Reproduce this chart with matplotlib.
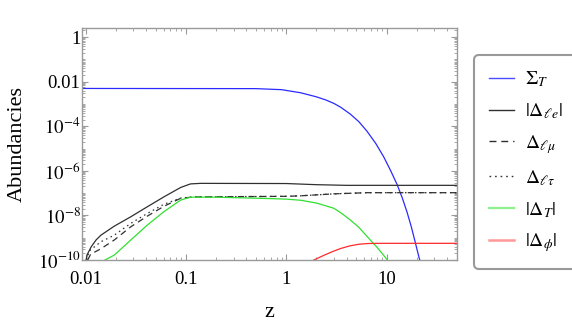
import matplotlib
matplotlib.use("Agg")
import matplotlib.pyplot as plt
import matplotlib.ticker as mticker
from matplotlib.lines import Line2D
import numpy as np

plt.rcParams["font.family"] = ["Liberation Serif", "DejaVu Serif"]
plt.rcParams["mathtext.fontset"] = "stix"

# values (z, abundance)
z_sigma = [0.0092, 0.5, 0.9, 1.39, 2.0, 2.5, 3.0, 3.5, 4.36, 5.3, 6.38, 7.8,
           9.35, 11.0, 12.7, 14.3, 16.0, 17.6, 19.3, 20.5, 21.4]
sigma_T = [5.0e-3, 4.9e-3, 4.4e-3, 3.2e-3, 2.1e-3, 1.5e-3, 1.05e-3, 7.1e-4,
           3.5e-4, 1.6e-4, 6.0e-5, 1.7e-5, 4.3e-6, 1.0e-6, 2.5e-7, 6.3e-8,
           1.4e-8, 3.2e-9, 6.3e-10, 2.1e-10, 1.0e-10]

z_le = [0.0101, 0.0104, 0.0114, 0.0127, 0.0142, 0.0193, 0.0282, 0.0412,
        0.0606, 0.0886, 0.111, 0.14, 1.0, 2.0, 4.0, 50.0]
delta_le = [1.0e-10, 1.8e-10, 4.0e-10, 7.9e-10, 1.3e-9, 3.3e-9, 8.7e-9,
            2.45e-8, 6.9e-8, 1.8e-7, 2.6e-7, 2.75e-7, 2.7e-7, 2.4e-7,
            2.24e-7, 2.24e-7]

z_lmu = [0.0105, 0.0112, 0.0142, 0.0193, 0.0282, 0.0412, 0.0606, 0.0886,
         0.12, 1.0, 1.39, 2.98, 6.38, 50.0]
delta_lmu = [1.0e-10, 1.8e-10, 3.2e-10, 7.9e-10, 3.1e-9, 9.3e-9, 2.6e-8,
             5.9e-8, 6.8e-8, 7.2e-8, 7.6e-8, 9.3e-8, 1.05e-7, 1.05e-7]

z_ltau = [0.0103, 0.0108, 0.0142, 0.0193, 0.0282, 0.0412, 0.0606, 0.0886,
          0.12, 1.0, 1.39, 2.98, 6.38, 50.0]
delta_ltau = [1.0e-10, 2.5e-10, 6.6e-10, 1.3e-9, 4.4e-9, 1.23e-8, 3.2e-8,
              6.0e-8, 6.8e-8, 7.2e-8, 7.6e-8, 9.3e-8, 1.05e-7, 1.05e-7]

z_T = [0.0156, 0.0193, 0.0282, 0.0412, 0.0606, 0.0886, 0.111, 0.2, 0.6,
       1.0, 1.39, 2.0, 2.98, 3.6, 4.36, 5.3, 6.38, 7.2, 7.92, 9.0, 10.2]
delta_T = [1.0e-10, 1.66e-10, 7.9e-10, 3.7e-9, 1.5e-8, 4.9e-8, 6.6e-8,
           6.6e-8, 5.8e-8, 5.4e-8, 4.8e-8, 3.6e-8, 2.1e-8, 1.2e-8, 6.2e-9,
           2.9e-9, 1.15e-9, 6.3e-10, 4.0e-10, 2.0e-10, 1.0e-10]

z_phi = [1.88, 2.4, 2.9, 3.5, 4.3, 5.3, 6.5, 8.5, 50.0]
delta_phi = [1.0e-10, 1.66e-10, 2.4e-10, 3.3e-10, 4.3e-10, 5.1e-10,
             5.5e-10, 5.6e-10, 5.6e-10]

x_ticks = [0.01, 0.1, 1, 10]
x_labels = ["0.01", "0.1", "1", "10"]
y_ticks = [1, 1e-2, 1e-4, 1e-6, 1e-8, 1e-10]
y_labels = ["1", "0.01", "$10^{-4}$", "$10^{-6}$", "$10^{-8}$", "$10^{-10}$"]

fig = plt.figure(figsize=(5.72, 3.24), dpi=100)
ax = fig.add_axes([82 / 572, 1 - 260 / 324, (456.7 - 82) / 572, (260 - 28.3) / 324])

lw = 0.9
ax.plot(z_sigma, sigma_T, color="#2a2aff", lw=lw)
ax.plot(z_le, delta_le, color="#303030", lw=lw)
ax.plot(z_lmu, delta_lmu, color="#303030", lw=lw, dashes=(5, 3.5))
ax.plot(z_ltau, delta_ltau, color="#303030", lw=lw, dashes=(1.2, 2.8))
ax.plot(z_T, delta_T, color="#30e030", lw=lw)
ax.plot(z_phi, delta_phi, color="#ff2a2a", lw=lw)

ax.set_xscale("log")
ax.set_yscale("log")
ax.set_xlim(0.0092, 50)
ax.set_ylim(1e-10, 2.5)

ax.set_xticks(x_ticks)
ax.set_xticklabels(x_labels)
ax.xaxis.set_minor_locator(mticker.LogLocator(base=10, subs=np.arange(2, 10), numticks=50))
ax.xaxis.set_minor_formatter(mticker.NullFormatter())
ax.set_yticks(y_ticks)
ax.set_yticklabels(y_labels)
ax.yaxis.set_minor_locator(mticker.LogLocator(base=10, subs=np.arange(1, 10), numticks=50))
ax.yaxis.set_minor_formatter(mticker.NullFormatter())

frame = "#9a9a9a"
for s in ax.spines.values():
    s.set_color(frame)
    s.set_linewidth(1.0)
ax.tick_params(which="both", direction="in", top=True, right=True, color=frame,
               labelsize=13.5, labelcolor="black")
ax.tick_params(which="major", length=4.5, width=0.8)
ax.tick_params(which="minor", length=2.2, width=0.6)
ax.tick_params(axis="y", pad=1)
ax.tick_params(axis="x", pad=8)

ax.set_xlabel("z", fontsize=16, labelpad=11)
ax.set_ylabel("Abundancies", fontsize=16, labelpad=8)

handles = [
    Line2D([], [], color="#4a4aff", lw=1.0),
    Line2D([], [], color="#303030", lw=1.0),
    Line2D([], [], color="#303030", lw=1.0, dashes=(5, 3.5)),
    Line2D([], [], color="#303030", lw=1.0, dashes=(1.2, 2.8)),
    Line2D([], [], color="#8cf08c", lw=1.6),
    Line2D([], [], color="#ff9898", lw=1.8),
]
labels = [r"$\Sigma_T$", r"$|\Delta_{\ell e}|$", r"$\Delta_{\ell \mu}$",
          r"$\Delta_{\ell \tau}$", r"$|\Delta_T|$", r"$|\Delta_{\phi}|$"]
leg = fig.legend(handles, labels, loc="upper left",
                 bbox_to_anchor=(474 / 572, 1 - 55 / 324), fontsize=14,
                 handlelength=1.3, handletextpad=0.55, labelspacing=0.62,
                 borderpad=0.75, borderaxespad=0, fancybox=True, frameon=True)
leg.get_frame().set_edgecolor("#808080")
leg.get_frame().set_linewidth(1.5)
leg.get_frame().set_boxstyle("round,pad=0,rounding_size=0.25")

fig.savefig("out.png", dpi=100)
